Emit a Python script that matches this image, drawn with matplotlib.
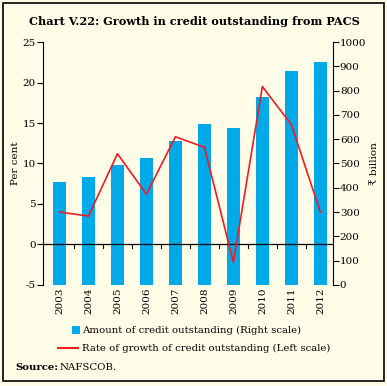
import matplotlib.pyplot as plt
from matplotlib.patches import Rectangle
from matplotlib.lines import Line2D

# Data
years = ['2003', '2004', '2005', '2006', '2007', '2008', '2009', '2010', '2011', '2012']
credit_amount = [424, 444, 494, 524, 593, 663, 647, 774, 881, 918]   # ₹ billion (right scale)
growth_rate = [4.0, 3.5, 11.2, 6.2, 13.3, 12.0, -2.2, 19.5, 14.8, 4.0]  # per cent (left scale)

bg = '#FFFCE8'
bar_color = '#00A9E8'
line_color = '#EE1C25'
serif = ['DejaVu Serif', 'DejaVu Sans']

plt.rcParams['font.family'] = serif
plt.rcParams['axes.unicode_minus'] = False

fig = plt.figure(figsize=(3.87, 3.86), dpi=100, facecolor=bg)
ax = fig.add_axes([0.111, 0.262, 0.749, 0.629])
ax.set_facecolor(bg)
ax2 = ax.twinx()

x = list(range(len(years)))

# bars on the right scale
ax2.bar(x, credit_amount, width=0.45, color=bar_color, zorder=2)
ax2.set_ylim(0, 1000)
ax2.set_yticks(range(0, 1001, 100))

# growth line on the left scale
ax.set_zorder(ax2.get_zorder() + 1)
ax.patch.set_visible(False)
ax.plot(x, growth_rate, color=line_color, linewidth=1.2, zorder=3)
ax.set_ylim(-5, 25)
ax.set_yticks(range(-5, 26, 5))
ax.axhline(0, color='black', linewidth=0.9, zorder=2)

# ticks on the zero line between bars
for xt in [i + 0.5 for i in range(len(years) - 1)]:
    ax.plot([xt, xt], [0, -0.5], color='black', linewidth=0.8, zorder=2)

ax.set_xlim(-0.57, 9.43)
ax.set_xticks(x)
ax.set_xticklabels(years, rotation=90, fontsize=7.5)
ax.tick_params(axis='x', length=0, pad=2)
ax.tick_params(axis='y', labelsize=7.5, length=4, width=0.8, pad=1)
ax2.tick_params(axis='y', labelsize=7.5, length=4, width=0.8, pad=1)

for a in (ax, ax2):
    a.spines['top'].set_visible(False)
    a.spines['bottom'].set_visible(False)
ax.spines['right'].set_visible(False)
ax2.spines['left'].set_visible(False)

ax.set_ylabel('Per cent', fontsize=7.5)
ax.yaxis.set_label_coords(-0.079, 0.5)
ax2.set_ylabel('₹ billion', fontsize=7.5, rotation=90, family=serif)
ax2.yaxis.set_label_coords(1.128, 0.5)

# title
fig.text(0.502, 0.945, 'Chart V.22: Growth in credit outstanding from PACS',
         ha='center', va='center', fontsize=8.1, fontweight='bold')

# legend, drawn by hand to match the layout
fig.patches.append(Rectangle((72 / 387, 1 - 334 / 386), 8 / 387, 8 / 386,
                             transform=fig.transFigure, facecolor=bar_color,
                             edgecolor='none'))
fig.text(82 / 387, 1 - 330 / 386, 'Amount of credit outstanding (Right scale)',
         fontsize=7.3, va='center')
fig.lines.append(Line2D([58 / 387, 78 / 387], [1 - 348 / 386, 1 - 348 / 386],
                        transform=fig.transFigure, color=line_color, linewidth=1.5))
fig.text(82 / 387, 1 - 348 / 386, 'Rate of growth of credit outstanding (Left scale)',
         fontsize=7.3, va='center')

fig.text(15 / 387, 1 - 367 / 386, 'Source:', fontsize=7.3, fontweight='bold',
         va='center')
fig.text(60 / 387, 1 - 367 / 386, 'NAFSCOB.', fontsize=7.3, va='center')

# outer frame
fig.patches.append(Rectangle((3 / 387, 1 - 381 / 386), 381 / 387, 378 / 386,
                             transform=fig.transFigure, fill=False,
                             edgecolor='black', linewidth=1.2))

fig.savefig('out.png', dpi=100, facecolor=bg)
